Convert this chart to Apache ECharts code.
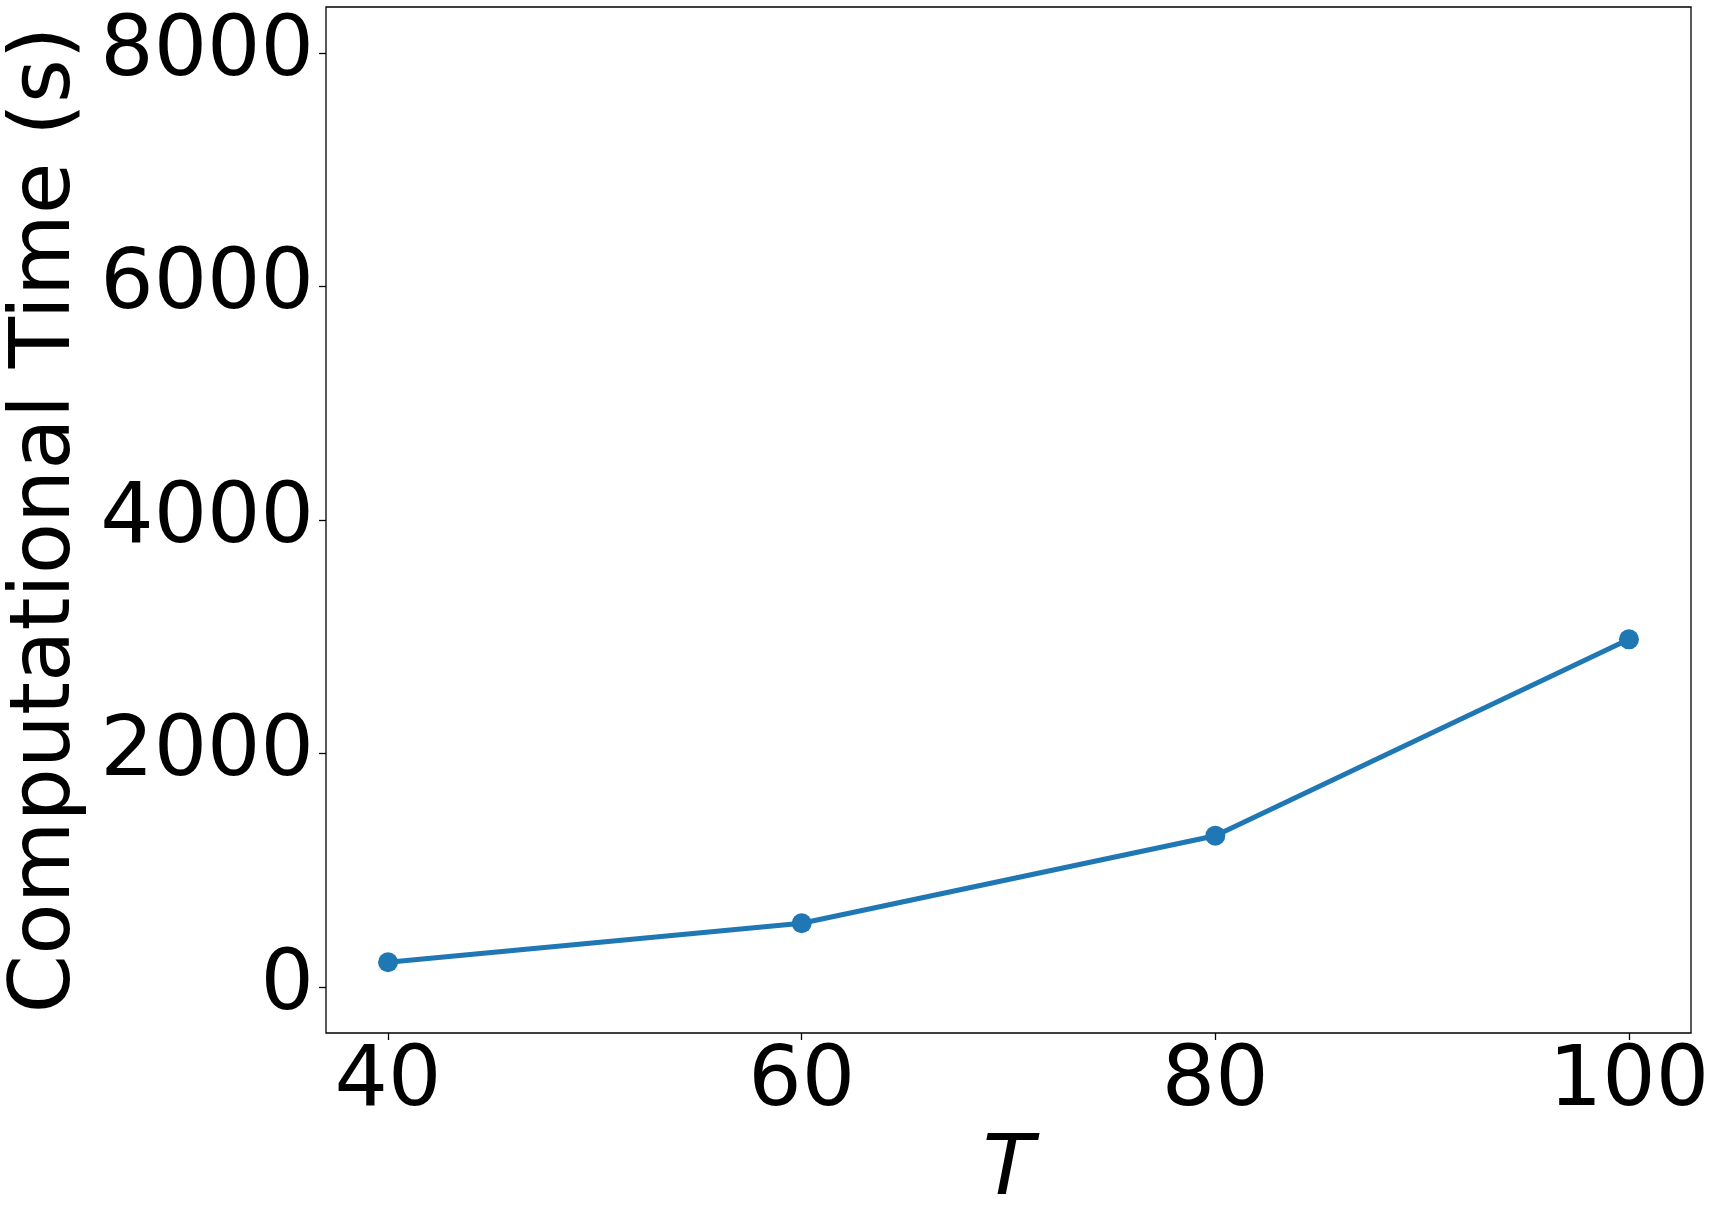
<!DOCTYPE html>
<html>
<head>
<meta charset="utf-8">
<script src="https://cdn.jsdelivr.net/npm/echarts@6/dist/echarts.min.js"></script>
<style>
  html, body { margin: 0; padding: 0; background: #fff; }
  #main { width: 1710px; height: 1206px; }
</style>
</head>
<body>
<div id="main"></div>
<script>
// data
var T = [40, 60, 80, 100]
var seconds = [212, 546, 1296, 2978]
var xTicks = [40, 60, 80, 100]
var yTicks = [0, 2000, 4000, 6000, 8000]

var font = 'DejaVu Sans'
var chart = echarts.init(document.getElementById('main'))

var points = []
for (var i = 0; i < T.length; i++) {
  points.push([T[i], seconds[i]])
}

var option = {
  animation: false,
  backgroundColor: '#fff',
  grid: {
    left: 326,
    right: 19,
    top: 7,
    bottom: 173,
    outerBoundsMode: 'none',
    containLabel: false,
    show: true,
    borderColor: '#000',
    borderWidth: 1.3
  },
  xAxis: {
    type: 'value',
    min: 37,
    max: 103,
    name: 'T',
    nameLocation: 'middle',
    nameGap: 90,
    nameTextStyle: { fontFamily: font, fontSize: 84, fontStyle: 'italic', color: '#000' },
    axisLine: { show: false, onZero: false },
    splitLine: { show: false },
    axisTick: {
      show: true,
      length: 7,
      customValues: xTicks,
      lineStyle: { color: '#000', width: 1.3 }
    },
    axisLabel: {
      customValues: xTicks,
      margin: 8,
      fontFamily: font,
      fontSize: 84,
      color: '#000',
      formatter: function (v) { return String(v) }
    }
  },
  yAxis: {
    type: 'value',
    min: -394,
    max: 8394,
    name: 'Computational Time (s)',
    nameLocation: 'middle',
    nameRotate: 90,
    nameGap: 222,
    nameTextStyle: { fontFamily: font, fontSize: 84, color: '#000' },
    axisLine: { show: false, onZero: false },
    splitLine: { show: false },
    axisTick: {
      show: true,
      length: 7,
      customValues: yTicks,
      lineStyle: { color: '#000', width: 1.3 }
    },
    axisLabel: {
      customValues: yTicks,
      margin: 12,
      fontFamily: font,
      fontSize: 84,
      color: '#000',
      formatter: function (v) { return String(v) }
    }
  },
  series: [{
    type: 'line',
    data: points,
    symbol: 'circle',
    symbolSize: 20,
    itemStyle: { color: '#1f77b4' },
    lineStyle: { color: '#1f77b4', width: 5 }
  }]
}

chart.setOption(option)
</script>
</body>
</html>
